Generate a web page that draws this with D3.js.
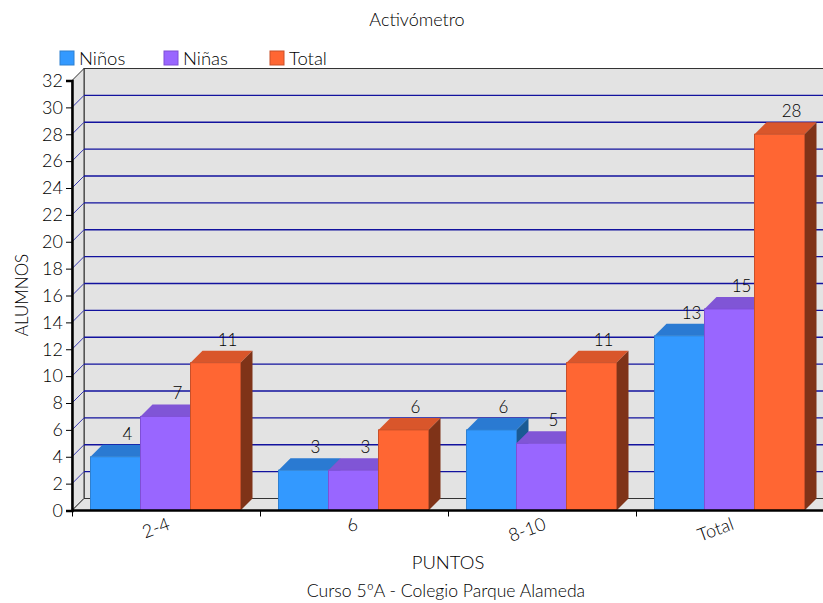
<!DOCTYPE html>
<html>
<head>
<meta charset="utf-8">
<script src="https://cdn.jsdelivr.net/npm/d3@7"></script>
<style>
  html, body { margin: 0; padding: 0; background: #fff; overflow: hidden; }
  text { font-family: "Comic Sans MS", "Lato", sans-serif; font-weight: 300; fill: #000; }
</style>
</head>
<body>
<div id="visualization"></div>
<script>
// Chart data
const categories = ["2-4", "6", "8-10", "Total"];
const seriesNames = ["Niños", "Niñas", "Total"];
const ninos = [4, 3, 6, 13];
const ninas = [7, 3, 5, 15];
const total = [11, 6, 11, 28];
const yTicks = [0, 2, 4, 6, 8, 10, 12, 14, 16, 18, 20, 22, 24, 26, 28, 30, 32];

const seriesValues = [ninos, ninas, total];
const faceColors = ["#3399ff", "#9966ff", "#ff6633"];
const edgeColors = ["#2f80d0", "#7f4fd6", "#c8502a"];
const topColors = ["#2a7ad2", "#8055d6", "#d9562b"];
const sideColors = ["#195a94", "#5a3a9c", "#7f3318"];

const width = 823;
const height = 603;
const depth = 12; // 3D offset of the back wall

const svg = d3.select("#visualization").append("svg")
    .attr("width", width)
    .attr("height", height)
    .style("display", "block");

// Scales
const x = d3.scaleBand().domain(categories).range([72, 824]);
const xInner = d3.scaleBand().domain(d3.range(3)).range([18.5, 168.5]);
const y = d3.scaleLinear().domain([0, 32]).range([510.5, 80.5]);

const poly = pts => "M" + pts.map(p => p.join(",")).join("L") + "Z";

// Walls and floor
const right = width + 2;
svg.append("path")
    .attr("d", poly([[x.range()[0] + depth, y(32) - depth], [right, y(32) - depth], [right, y(0) - depth], [x.range()[0] + depth, y(0) - depth]]))
    .attr("fill", "#e3e3e3")
    .attr("stroke", "#333")
    .attr("stroke-width", 1.2);
svg.append("path")
    .attr("d", poly([[72, y(32)], [72 + depth, y(32) - depth], [72 + depth, y(0) - depth], [72, y(0)]]))
    .attr("fill", "#e3e3e3")
    .attr("stroke", "#333")
    .attr("stroke-width", 1);
svg.append("path")
    .attr("d", poly([[72, y(0)], [72 + depth, y(0) - depth], [right, y(0) - depth], [right, y(0)]]))
    .attr("fill", "#e3e3e3")
    .attr("stroke", "#333")
    .attr("stroke-width", 1);

// Grid lines, back wall and left wall
yTicks.filter(d => d > 0 && d < 32).forEach(d => {
    svg.append("line")
        .attr("x1", 72 + depth).attr("x2", right)
        .attr("y1", y(d) - depth).attr("y2", y(d) - depth)
        .attr("stroke", "#12129e")
        .attr("stroke-width", 1.3);
    svg.append("line")
        .attr("x1", 72).attr("x2", 72 + depth)
        .attr("y1", y(d)).attr("y2", y(d) - depth)
        .attr("stroke", "#3a3ab0")
        .attr("stroke-width", 1);
});

// Bars, drawn one category at a time so nearer faces overlap
categories.forEach((cat, i) => {
    seriesValues.forEach((values, s) => {
        const x0 = x(cat) + xInner(s);
        const x1 = x0 + xInner.bandwidth();
        const yTop = y(values[i]);
        const yBase = y(0);
        const g = svg.append("g");
        g.append("path")
            .attr("d", poly([[x0, yTop], [x0 + depth, yTop - depth], [x1 + depth, yTop - depth], [x1, yTop]]))
            .attr("fill", topColors[s]);
        g.append("path")
            .attr("d", poly([[x1, yTop], [x1 + depth, yTop - depth], [x1 + depth, yBase - depth], [x1, yBase]]))
            .attr("fill", sideColors[s]);
        g.append("rect")
            .attr("x", x0)
            .attr("y", yTop)
            .attr("width", xInner.bandwidth())
            .attr("height", yBase - yTop)
            .attr("fill", faceColors[s])
            .attr("stroke", edgeColors[s])
            .attr("stroke-width", 1);
    });
});

// Value labels go above everything
categories.forEach((cat, i) => {
    seriesValues.forEach((values, s) => {
        svg.append("text")
            .attr("x", x(cat) + xInner(s) + xInner.bandwidth() / 2 + 12)
            .attr("y", y(values[i]) - 17)
            .attr("text-anchor", "middle")
            .attr("font-size", 17)
            .text(values[i]);
    });
});

// Axes
const yAxis = d3.axisLeft(y).tickValues(yTicks).tickSize(6).tickPadding(3);
const yG = svg.append("g").attr("transform", "translate(72,0)").call(yAxis);
yG.select(".domain").attr("stroke", "#000").attr("stroke-width", 2.5);
yG.selectAll(".tick line").attr("stroke", "#000").attr("stroke-width", 1);
yG.selectAll(".tick text").attr("font-size", 18);
yG.attr("font-family", null);

svg.append("line")
    .attr("x1", 72).attr("x2", right)
    .attr("y1", y(0)).attr("y2", y(0))
    .attr("stroke", "#000").attr("stroke-width", 2.5);

// x ticks sit on the band edges
const xTicksG = svg.append("g");
categories.forEach(cat => {
    xTicksG.append("line")
        .attr("x1", x(cat) + 0.5).attr("x2", x(cat) + 0.5)
        .attr("y1", y(0)).attr("y2", y(0) + 6)
        .attr("stroke", "#000");
    svg.append("text")
        .attr("transform", "translate(" + (x(cat) + x.bandwidth() / 2 + 5) + ",529) rotate(-20)")
        .attr("text-anchor", "end")
        .attr("font-size", 18)
        .text(cat);
});

// Legend
const legendX = [60, 164, 270];
seriesNames.forEach((name, i) => {
    svg.append("rect")
        .attr("x", legendX[i]).attr("y", 51)
        .attr("width", 14).attr("height", 14)
        .attr("fill", faceColors[i])
        .attr("stroke", edgeColors[i]);
    svg.append("text")
        .attr("x", legendX[i] + 19)
        .attr("y", 65)
        .attr("font-size", 18.5)
        .text(name);
});

// Titles
svg.append("text").attr("x", 417).attr("y", 26).attr("text-anchor", "middle").attr("font-size", 18).text("Activómetro");
svg.append("text").attr("x", 448).attr("y", 569).attr("text-anchor", "middle").attr("font-size", 18.5).text("PUNTOS");
svg.append("text").attr("x", 446).attr("y", 597).attr("text-anchor", "middle").attr("font-size", 17.6).text("Curso 5ºA - Colegio Parque Alameda");
svg.append("text")
    .attr("transform", "translate(28,295) rotate(-90)")
    .attr("text-anchor", "middle")
    .attr("font-size", 17)
    .text("ALUMNOS");
</script>
</body>
</html>
